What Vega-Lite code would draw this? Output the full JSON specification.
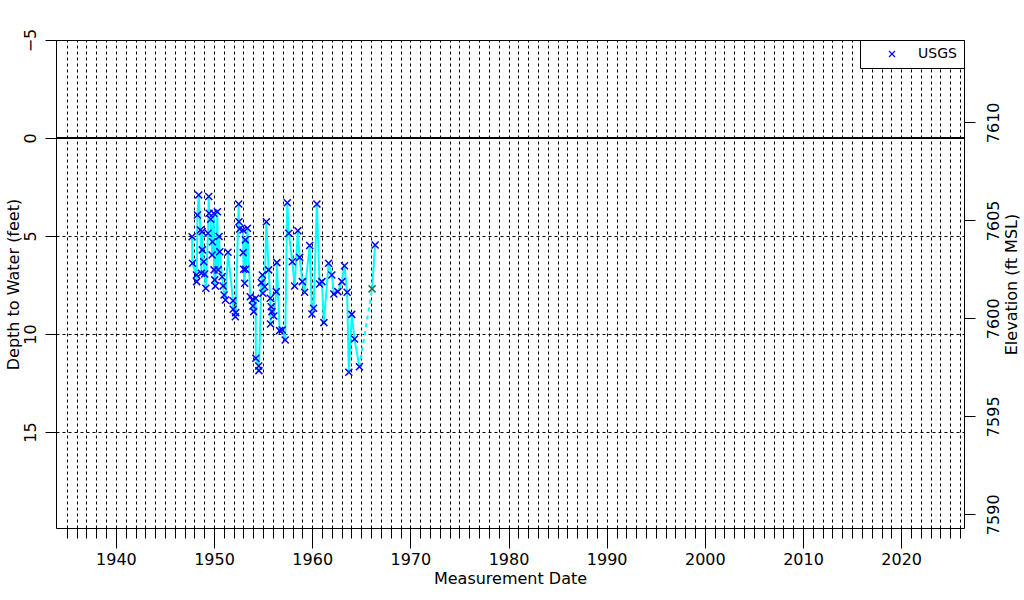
{
  "$schema": "https://vega.github.io/schema/vega-lite/v6.json",
  "width": 908,
  "height": 488,
  "autosize": "none",
  "padding": {"left": 56, "top": 40, "right": 60, "bottom": 72},
  "background": "white",
  "config": {
    "view": {"stroke": "black", "strokeWidth": 1},
    "font": "DejaVu Sans",
    "axis": {
      "labelFont": "DejaVu Sans",
      "titleFont": "DejaVu Sans",
      "labelFontSize": 16,
      "titleFontSize": 16,
      "titleFontWeight": "normal",
      "labelColor": "black",
      "titleColor": "black",
      "tickColor": "black",
      "domain": false,
      "labelOverlap": false,
      "labelFlush": false
    },
    "legend": {"labelFont": "DejaVu Sans"}
  },
  "datasets": {
    "levels": [
      {"year": 1947.76, "depth": 5.04, "seg": "a", "agency": "USGS"},
      {"year": 1947.80, "depth": 6.39, "seg": "a", "agency": "USGS"},
      {"year": 1948.21, "depth": 6.99, "seg": "a", "agency": "USGS"},
      {"year": 1948.23, "depth": 7.33, "seg": "a", "agency": "USGS"},
      {"year": 1948.31, "depth": 3.93, "seg": "a", "agency": "USGS"},
      {"year": 1948.44, "depth": 2.91, "seg": "a", "agency": "USGS"},
      {"year": 1948.61, "depth": 4.69, "seg": "a", "agency": "USGS"},
      {"year": 1948.71, "depth": 6.90, "seg": "a", "agency": "USGS"},
      {"year": 1948.78, "depth": 4.78, "seg": "a", "agency": "USGS"},
      {"year": 1948.80, "depth": 5.71, "seg": "a", "agency": "USGS"},
      {"year": 1948.95, "depth": 6.31, "seg": "a", "agency": "USGS"},
      {"year": 1949.05, "depth": 6.94, "seg": "a", "agency": "USGS"},
      {"year": 1949.16, "depth": 7.67, "seg": "a", "agency": "USGS"},
      {"year": 1949.39, "depth": 4.86, "seg": "a", "agency": "USGS"},
      {"year": 1949.46, "depth": 2.99, "seg": "a", "agency": "USGS"},
      {"year": 1949.49, "depth": 3.84, "seg": "a", "agency": "USGS"},
      {"year": 1949.66, "depth": 4.15, "seg": "a", "agency": "USGS"},
      {"year": 1949.80, "depth": 5.97, "seg": "a", "agency": "USGS"},
      {"year": 1949.84, "depth": 5.29, "seg": "a", "agency": "USGS"},
      {"year": 1949.97, "depth": 3.84, "seg": "a", "agency": "USGS"},
      {"year": 1950.00, "depth": 6.73, "seg": "a", "agency": "USGS"},
      {"year": 1950.07, "depth": 7.24, "seg": "a", "agency": "USGS"},
      {"year": 1950.13, "depth": 7.55, "seg": "a", "agency": "USGS"},
      {"year": 1950.34, "depth": 3.76, "seg": "a", "agency": "USGS"},
      {"year": 1950.41, "depth": 6.73, "seg": "a", "agency": "USGS"},
      {"year": 1950.51, "depth": 5.03, "seg": "a", "agency": "USGS"},
      {"year": 1950.58, "depth": 5.80, "seg": "a", "agency": "USGS"},
      {"year": 1950.82, "depth": 7.08, "seg": "a", "agency": "USGS"},
      {"year": 1950.92, "depth": 7.55, "seg": "a", "agency": "USGS"},
      {"year": 1951.02, "depth": 8.01, "seg": "a", "agency": "USGS"},
      {"year": 1951.16, "depth": 8.27, "seg": "a", "agency": "USGS"},
      {"year": 1951.42, "depth": 5.83, "seg": "a", "agency": "USGS"},
      {"year": 1951.93, "depth": 8.30, "seg": "a", "agency": "USGS"},
      {"year": 1951.95, "depth": 8.74, "seg": "a", "agency": "USGS"},
      {"year": 1952.17, "depth": 9.12, "seg": "a", "agency": "USGS"},
      {"year": 1952.21, "depth": 8.91, "seg": "a", "agency": "USGS"},
      {"year": 1952.51, "depth": 3.37, "seg": "a", "agency": "USGS"},
      {"year": 1952.54, "depth": 4.27, "seg": "a", "agency": "USGS"},
      {"year": 1952.61, "depth": 4.64, "seg": "a", "agency": "USGS"},
      {"year": 1952.95, "depth": 4.69, "seg": "a", "agency": "USGS"},
      {"year": 1952.97, "depth": 5.85, "seg": "a", "agency": "USGS"},
      {"year": 1953.02, "depth": 6.70, "seg": "a", "agency": "USGS"},
      {"year": 1953.12, "depth": 7.41, "seg": "a", "agency": "USGS"},
      {"year": 1953.19, "depth": 5.20, "seg": "a", "agency": "USGS"},
      {"year": 1953.22, "depth": 6.70, "seg": "a", "agency": "USGS"},
      {"year": 1953.40, "depth": 4.61, "seg": "a", "agency": "USGS"},
      {"year": 1953.69, "depth": 8.10, "seg": "a", "agency": "USGS"},
      {"year": 1953.90, "depth": 8.27, "seg": "a", "agency": "USGS"},
      {"year": 1953.96, "depth": 8.57, "seg": "a", "agency": "USGS"},
      {"year": 1954.04, "depth": 8.86, "seg": "a", "agency": "USGS"},
      {"year": 1954.24, "depth": 8.18, "seg": "a", "agency": "USGS"},
      {"year": 1954.26, "depth": 11.24, "seg": "a", "agency": "USGS"},
      {"year": 1954.55, "depth": 11.63, "seg": "a", "agency": "USGS"},
      {"year": 1954.57, "depth": 11.87, "seg": "a", "agency": "USGS"},
      {"year": 1954.82, "depth": 7.38, "seg": "a", "agency": "USGS"},
      {"year": 1954.92, "depth": 6.99, "seg": "a", "agency": "USGS"},
      {"year": 1954.98, "depth": 7.92, "seg": "a", "agency": "USGS"},
      {"year": 1955.16, "depth": 7.59, "seg": "a", "agency": "USGS"},
      {"year": 1955.33, "depth": 4.27, "seg": "a", "agency": "USGS"},
      {"year": 1955.56, "depth": 6.73, "seg": "a", "agency": "USGS"},
      {"year": 1955.73, "depth": 8.18, "seg": "a", "agency": "USGS"},
      {"year": 1955.75, "depth": 9.49, "seg": "a", "agency": "USGS"},
      {"year": 1955.83, "depth": 8.61, "seg": "a", "agency": "USGS"},
      {"year": 1955.90, "depth": 8.86, "seg": "a", "agency": "USGS"},
      {"year": 1956.09, "depth": 9.08, "seg": "a", "agency": "USGS"},
      {"year": 1956.34, "depth": 7.84, "seg": "a", "agency": "USGS"},
      {"year": 1956.40, "depth": 6.36, "seg": "a", "agency": "USGS"},
      {"year": 1956.68, "depth": 9.83, "seg": "a", "agency": "USGS"},
      {"year": 1956.95, "depth": 9.80, "seg": "a", "agency": "USGS"},
      {"year": 1957.25, "depth": 10.31, "seg": "a", "agency": "USGS"},
      {"year": 1957.46, "depth": 3.30, "seg": "a", "agency": "USGS"},
      {"year": 1957.62, "depth": 4.86, "seg": "a", "agency": "USGS"},
      {"year": 1957.97, "depth": 6.31, "seg": "a", "agency": "USGS"},
      {"year": 1958.21, "depth": 7.55, "seg": "a", "agency": "USGS"},
      {"year": 1958.54, "depth": 4.73, "seg": "a", "agency": "USGS"},
      {"year": 1958.72, "depth": 6.09, "seg": "a", "agency": "USGS"},
      {"year": 1958.99, "depth": 7.33, "seg": "a", "agency": "USGS"},
      {"year": 1959.23, "depth": 7.87, "seg": "a", "agency": "USGS"},
      {"year": 1959.74, "depth": 5.49, "seg": "a", "agency": "USGS"},
      {"year": 1959.97, "depth": 8.98, "seg": "a", "agency": "USGS"},
      {"year": 1960.14, "depth": 8.69, "seg": "a", "agency": "USGS"},
      {"year": 1960.48, "depth": 3.37, "seg": "a", "agency": "USGS"},
      {"year": 1960.75, "depth": 7.45, "seg": "a", "agency": "USGS"},
      {"year": 1960.99, "depth": 7.33, "seg": "a", "agency": "USGS"},
      {"year": 1961.19, "depth": 9.42, "seg": "a", "agency": "USGS"},
      {"year": 1961.67, "depth": 6.39, "seg": "a", "agency": "USGS"},
      {"year": 1962.00, "depth": 6.99, "seg": "a", "agency": "USGS"},
      {"year": 1962.21, "depth": 7.96, "seg": "a", "agency": "USGS"},
      {"year": 1962.61, "depth": 7.84, "seg": "a", "agency": "USGS"},
      {"year": 1963.02, "depth": 7.33, "seg": "a", "agency": "USGS"},
      {"year": 1963.29, "depth": 6.52, "seg": "a", "agency": "USGS"},
      {"year": 1963.56, "depth": 7.87, "seg": "a", "agency": "USGS"},
      {"year": 1963.73, "depth": 11.95, "seg": "a", "agency": "USGS"},
      {"year": 1964.03, "depth": 9.00, "seg": "a", "agency": "USGS"},
      {"year": 1964.31, "depth": 10.26, "seg": "a", "agency": "USGS"},
      {"year": 1964.81, "depth": 11.67, "seg": "a", "agency": "USGS"},
      {"year": 1966.10, "depth": 7.70, "seg": "b", "agency": "other"},
      {"year": 1966.41, "depth": 5.46, "seg": "b", "agency": "USGS"}
    ],
    "gap": [
      {"year": 1964.81, "depth": 11.67},
      {"year": 1966.10, "depth": 7.70}
    ],
    "zero": [{"depth": 0}],
    "elev": [{"elevation": 7589.3}, {"elevation": 7614.2}]
  },
  "layer": [
    {
      "layer": [
        {
          "data": {"name": "levels"},
          "mark": {"type": "line", "color": "#00ffff", "strokeWidth": 2},
          "encoding": {
            "x": {
              "field": "year",
              "type": "quantitative",
              "scale": {"domain": [1933.9, 2026.4], "nice": false, "zero": false},
              "axis": {
                "values": [1935,1936,1937,1938,1939,1940,1941,1942,1943,1944,1945,1946,1947,1948,1949,1950,1951,1952,1953,1954,1955,1956,1957,1958,1959,1960,1961,1962,1963,1964,1965,1966,1967,1968,1969,1970,1971,1972,1973,1974,1975,1976,1977,1978,1979,1980,1981,1982,1983,1984,1985,1986,1987,1988,1989,1990,1991,1992,1993,1994,1995,1996,1997,1998,1999,2000,2001,2002,2003,2004,2005,2006,2007,2008,2009,2010,2011,2012,2013,2014,2015,2016,2017,2018,2019,2020,2021,2022,2023,2024,2025,2026],
                "tickCount": 200,
                "format": "d",
                "labelExpr": "datum.value % 10 === 0 ? datum.label : ''",
                "tickSize": {"condition": {"test": "datum.value % 10 === 0", "value": 20}, "value": 10},
                "labelPadding": 3,
                "grid": true,
                "gridColor": "black",
                "gridDash": [3, 3],
                "gridOpacity": 1,
                "title": "Measurement Date",
                "titlePadding": 3
              }
            },
            "y": {
              "field": "depth",
              "type": "quantitative",
              "scale": {"domain": [-5, 19.9], "reverse": true, "nice": false, "zero": false},
              "axis": {
                "values": [-5, 0, 5, 10, 15],
                "tickSize": 11,
                "labelAngle": 270,
                "labelAlign": "center",
                "labelBaseline": "bottom",
                "labelPadding": 7,
                "grid": true,
                "gridColor": "black",
                "gridDash": [3, 3],
                "gridOpacity": 1,
                "title": "Depth to Water (feet)",
                "titlePadding": 1
              }
            },
            "detail": {"field": "seg"}
          }
        },
        {
          "data": {"name": "gap"},
          "mark": {"type": "line", "color": "#00ffff", "strokeWidth": 2, "strokeDash": [4, 4]},
          "encoding": {
            "x": {"field": "year", "type": "quantitative"},
            "y": {"field": "depth", "type": "quantitative"}
          }
        },
        {
          "data": {"name": "zero"},
          "mark": {"type": "rule", "color": "black", "strokeWidth": 2},
          "encoding": {"y": {"field": "depth", "type": "quantitative"}}
        },
        {
          "data": {"name": "levels"},
          "transform": [{"filter": "datum.agency === 'USGS'"}],
          "mark": {"type": "point", "shape": "M-1,-1L1,1M-1,1L1,-1", "filled": false, "size": 49, "strokeWidth": 1.5, "opacity": 1},
          "encoding": {
            "x": {"field": "year", "type": "quantitative"},
            "y": {"field": "depth", "type": "quantitative"},
            "color": {
              "field": "agency",
              "type": "nominal",
              "scale": {"domain": ["USGS"], "range": ["#0000ff"]},
              "legend": {
                "title": null,
                "orient": "top-right",
                "offset": 0,
                "strokeColor": "black",
                "fillColor": "white",
                "cornerRadius": 0,
                "padding": 7,
                "symbolType": "M-1,-1L1,1M-1,1L1,-1",
                "symbolSize": 36,
                "symbolStrokeWidth": 1.2,
                "symbolOffset": 18,
                "labelOffset": 19,
                "labelFontSize": 14,
                "labelColor": "black"
              }
            }
          }
        },
        {
          "data": {"name": "levels"},
          "transform": [{"filter": "datum.agency === 'other'"}],
          "mark": {"type": "point", "shape": "M-1,-1L1,1M-1,1L1,-1", "filled": false, "size": 49, "strokeWidth": 1.5, "color": "#1f6f55", "opacity": 1},
          "encoding": {
            "x": {"field": "year", "type": "quantitative"},
            "y": {"field": "depth", "type": "quantitative"}
          }
        }
      ]
    },
    {
      "data": {"name": "elev"},
      "mark": {"type": "point", "opacity": 0},
      "encoding": {
        "y": {
          "field": "elevation",
          "type": "quantitative",
          "scale": {"domain": [7589.3, 7614.2], "nice": false, "zero": false},
          "axis": {
            "orient": "right",
            "values": [7590, 7595, 7600, 7605, 7610],
            "tickCount": 50,
            "format": "d",
            "tickSize": 11,
            "labelAngle": 270,
            "labelAlign": "center",
            "labelBaseline": "top",
            "labelPadding": 10,
            "grid": false,
            "title": "Elevation (ft MSL)",
            "titleAngle": 270,
            "titleBaseline": "top",
            "titlePadding": 2
          }
        }
      }
    }
  ],
  "resolve": {"scale": {"y": "independent"}, "axis": {"y": "independent"}}
}
